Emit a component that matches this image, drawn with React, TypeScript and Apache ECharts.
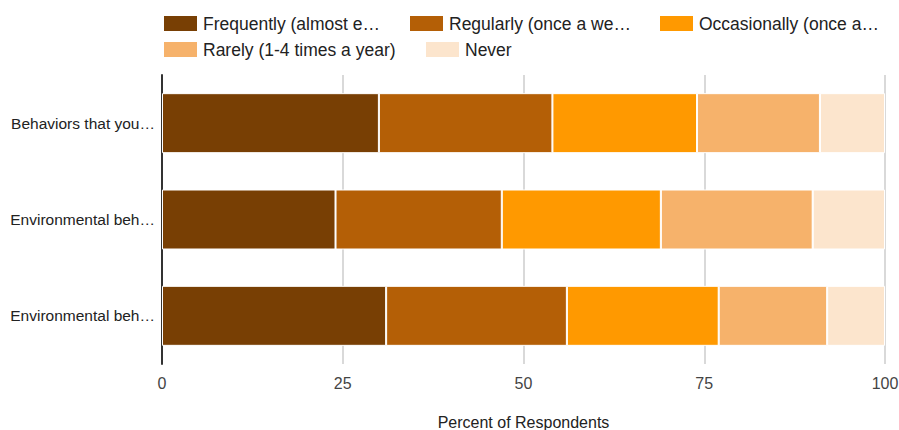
import React, { useEffect, useRef } from "react";
import * as echarts from "echarts";

const categories = ["Behaviors that you…", "Environmental beh…", "Environmental beh…"];
const seriesNames = [
  "Frequently (almost every day)",
  "Regularly (once a week)",
  "Occasionally (once a month)",
  "Rarely (1-4 times a year)",
  "Never",
];
const legendLabels = [
  "Frequently (almost e…",
  "Regularly (once a we…",
  "Occasionally (once a…",
  "Rarely (1-4 times a year)",
  "Never",
];
const frequently = [30, 24, 31];
const regularly = [24, 23, 25];
const occasionally = [20, 22, 21];
const rarely = [17, 21, 15];
const never = [9, 10, 8];
const xTicks = [0, 25, 50, 75, 100];
const colors = ["#783f04", "#b45f06", "#ff9900", "#f6b26b", "#fce5cd"];

export default function App() {
  const ref = useRef<HTMLDivElement>(null);
  useEffect(() => {
    if (!ref.current) return;
    const chart = echarts.init(ref.current, null, { renderer: "svg" });
    const values = [frequently, regularly, occasionally, rarely, never];
    const labelMap: Record<string, string> = {};
    seriesNames.forEach((n, i) => (labelMap[n] = legendLabels[i]));
    const legendPos = [
      [162, 14],
      [408, 14],
      [658, 14],
      [162, 40],
      [424, 40],
    ];
    const legends = seriesNames.map((n, i) => ({
      orient: "horizontal",
      left: legendPos[i][0],
      top: legendPos[i][1],
      padding: 0,
      itemWidth: 35,
      itemHeight: 17,
      icon: "rect",
      textStyle: { fontFamily: "Arial, 'Liberation Sans'", fontSize: 17.5, color: "#222" },
      formatter: (name: string) => labelMap[name],
      selectedMode: false,
      data: [n],
    }));
    chart.setOption({
      animation: false,
      color: colors,
      textStyle: { fontFamily: "Arial, 'Liberation Sans'" },
      legend: legends,
      grid: { left: 162, right: 14, top: 75, bottom: 66, containLabel: false, outerBoundsMode: "none" },
      xAxis: {
        type: "value",
        min: xTicks[0],
        max: xTicks[xTicks.length - 1],
        interval: 25,
        axisLine: { show: false },
        axisTick: { show: false },
        splitLine: { show: true, lineStyle: { color: "#cccccc", width: 1.5 } },
        axisLabel: { color: "#444", fontSize: 16, margin: 11 },
        name: "Percent of Respondents",
        nameLocation: "middle",
        nameGap: 50,
        nameTextStyle: { color: "#222", fontSize: 16 },
      },
      yAxis: {
        type: "category",
        inverse: true,
        data: categories,
        axisLine: { show: true, lineStyle: { color: "#333", width: 2 } },
        axisTick: { show: false },
        axisLabel: { color: "#222", fontSize: 15.5, margin: 7 },
      },
      series: seriesNames.map((name, i) => ({
        name,
        type: "bar",
        stack: "total",
        barWidth: 60,
        data: values[i],
        itemStyle: { color: colors[i], borderColor: "#ffffff", borderWidth: 1 },
      })),
    });
    return () => chart.dispose();
  }, []);
  return <div ref={ref} style={{ width: 899, height: 430, position: "absolute", left: 0, top: 0 }} />;
}
